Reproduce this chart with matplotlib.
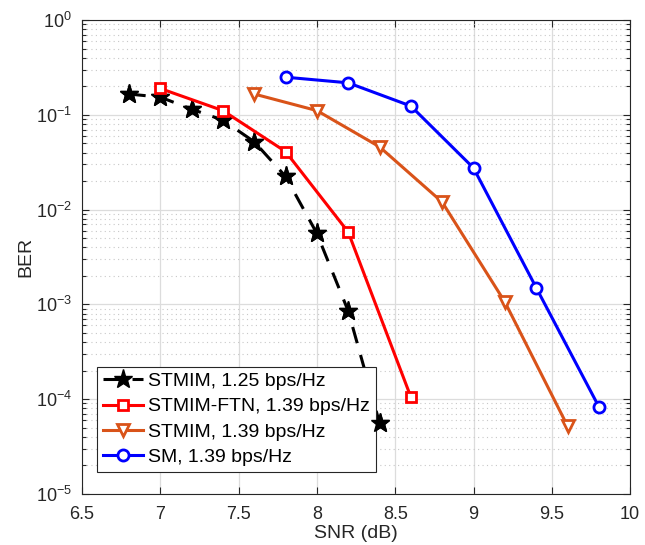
import matplotlib
matplotlib.use("Agg")
import matplotlib.pyplot as plt
from matplotlib.ticker import LogLocator, NullFormatter, FixedLocator

plt.rcParams['font.family'] = ['Liberation Sans', 'DejaVu Sans']

snr_a = [6.8, 7.0, 7.2, 7.4, 7.6, 7.8, 8.0, 8.2, 8.4]
ber_a = [0.166, 0.154, 0.115, 0.088, 0.052, 0.0224, 0.0056, 8.5e-4, 5.6e-5]

snr_b = [7.0, 7.4, 7.8, 8.2, 8.6]
ber_b = [0.19, 0.111, 0.041, 0.0058, 1.05e-4]

snr_c = [7.6, 8.0, 8.4, 8.8, 9.2, 9.6]
ber_c = [0.166, 0.111, 0.046, 0.012, 1.06e-3, 5.2e-5]

snr_d = [7.8, 8.2, 8.6, 9.0, 9.4, 9.8]
ber_d = [0.25, 0.218, 0.124, 0.0275, 1.5e-3, 8.3e-5]

labels = ['STMIM, 1.25 bps/Hz', 'STMIM-FTN, 1.39 bps/Hz',
          'STMIM, 1.39 bps/Hz', 'SM, 1.39 bps/Hz']
xticks = [6.5, 7, 7.5, 8, 8.5, 9, 9.5, 10]

fig = plt.figure(figsize=(6.45, 5.45), dpi=100)
ax = fig.add_axes([0.127, 0.094, 0.850, 0.869])

lw = 2.2
ax.plot(snr_a, ber_a, '--', color='black', lw=lw, marker='*', ms=14,
        mfc='black', mec='black', label=labels[0], dashes=(5.5, 4))
# markers of the first series drawn above the legend box, as in the reference
ax.plot(snr_a, ber_a, ls='none', marker='*', ms=14, mfc='black', mec='black',
        zorder=6)
ax.plot(snr_b, ber_b, '-', color='#FF0000', lw=lw, marker='s', ms=6.5,
        mfc='white', mec='#FF0000', mew=2.0, label=labels[1], zorder=7)
ax.plot(snr_c, ber_c, '-', color='#D95319', lw=lw, marker='v', ms=9,
        mfc='white', mec='#D95319', mew=2.0, label=labels[2], zorder=7)
ax.plot(snr_d, ber_d, '-', color='#0000FF', lw=lw, marker='o', ms=8,
        mfc='white', mec='#0000FF', mew=2.0, label=labels[3], zorder=7)

ax.set_yscale('log')
ax.set_xlim(6.5, 10)
ax.set_ylim(1e-5, 1)
ax.xaxis.set_major_locator(FixedLocator(xticks))
ax.set_xticklabels(['6.5', '7', '7.5', '8', '8.5', '9', '9.5', '10'])
ax.yaxis.set_major_locator(LogLocator(base=10, numticks=10))
ax.yaxis.set_minor_locator(LogLocator(base=10, subs=range(2, 10), numticks=20))
ax.yaxis.set_minor_formatter(NullFormatter())

ax.grid(True, which='major', color='#DCDCDC', lw=0.9, ls='-')
ax.grid(True, which='minor', axis='y', color='#C8C8C8', lw=0.8, ls=(0, (1, 3)))
ax.set_axisbelow(True)

ax.tick_params(which='both', direction='in', top=True, right=True,
               labelsize=13, colors='#262626', width=0.8)
ax.tick_params(which='major', length=5)
ax.tick_params(which='minor', length=3)
ax.tick_params(axis='x', which='major', pad=9)
ax.tick_params(axis='y', which='major', pad=7)
for s in ax.spines.values():
    s.set_color('#262626')
    s.set_linewidth(0.8)

ax.set_xlabel('SNR (dB)', fontsize=14, color='#262626', labelpad=1)
ax.set_ylabel('BER', fontsize=14, color='#262626', labelpad=1)

handles, lbls = ax.get_legend_handles_labels()
leg = ax.legend(handles, lbls, loc='lower left', bbox_to_anchor=(0.027, 0.046),
                fontsize=14, frameon=True, fancybox=False, edgecolor='#262626',
                framealpha=1.0, facecolor='white',
                handlelength=2.1, handletextpad=0.25, borderpad=0.3,
                labelspacing=0.4, borderaxespad=0)
leg.get_frame().set_linewidth(0.8)
leg.set_zorder(5)

fig.savefig('out.png', dpi=100)
